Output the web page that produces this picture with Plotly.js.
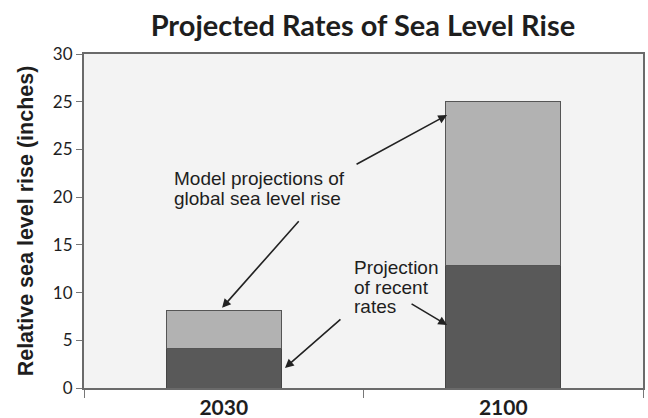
<!DOCTYPE html>
<html>
<head>
<meta charset="utf-8">
<script src="https://cdn.plot.ly/plotly-3.0.1.min.js"></script>
<style>html,body{margin:0;padding:0;background:#fff;}#chart{width:648px;height:418px;}</style>
</head>
<body>
<div id="chart"></div>
<script>
// Data (values on the drawn axis scale)
var years = ["2030", "2100"];
var recentRates = [4.1, 12.8];          // dark lower segment
var modelExtra = [4.0, 17.2];           // light upper segment (model projections)
var tickVals = [0, 5, 10, 15, 20, 25, 30, 35];
var tickText = ["0", "5", "10", "15", "20", "25", "25", "30"];
var modelLabel = ["Model projections of", "global sea level rise"];
var recentLabel = ["Projection", "of recent", "rates"];

var traces = [
  {type: "bar", x: years, y: recentRates, name: "Projection of recent rates",
   marker: {color: "#595959", line: {color: "#444", width: 1}}, width: 0.41},
  {type: "bar", x: years, y: modelExtra, name: "Model projections",
   marker: {color: "#b2b2b2", line: {color: "#555", width: 1}}, width: 0.41}
];

var arrowStyle = {showarrow: true, arrowhead: 2, arrowsize: 1.1, arrowwidth: 1.6, arrowcolor: "#222", text: "", xref: "x", yref: "y"};
function arr(x, y, ax, ay) { return Object.assign({}, arrowStyle, {x: x, y: y, ax: ax, ay: ay}); }
var txtFont = {family: "'Liberation Sans', Arial, sans-serif", size: 19, color: "#1e1e1e"};
function lbl(px, py, t) {
  return {xref: "paper", yref: "paper", x: (px - 84) / 559, y: (388 - py) / 334, xanchor: "left", yanchor: "middle",
          align: "left", borderpad: 0, showarrow: false, text: t, font: txtFont};
}

var annotations = [
  lbl(173, 178.5, modelLabel[0]),
  lbl(173, 198.5, modelLabel[1]),
  lbl(353, 267.5, recentLabel[0]),
  lbl(353, 287, recentLabel[1]),
  lbl(353, 306.5, recentLabel[2]),
  arr(0.799, 28.6, -92, 50),
  arr(-0.006, 8.4, 78, -88),
  arr(0.799, 6.6, -37, -22),
  arr(0.219, 2.1, 57, -50)
];

var layout = {
  width: 648, height: 418,
  margin: {l: 84, r: 5, t: 54, b: 30},
  paper_bgcolor: "#ffffff",
  plot_bgcolor: "#f3f3f3",
  barmode: "stack",
  showlegend: false,
  title: {text: "<b>Projected Rates of Sea Level Rise</b>", x: 0.56, xanchor: "center", y: 0.938, yanchor: "middle",
          font: {family: "Lato, 'DejaVu Sans', sans-serif", size: 29, color: "#1e1e1e"}},
  xaxis: {type: "category", range: [-0.5, 1.5], showline: true, linecolor: "#6a6a6a", linewidth: 2, mirror: true,
          ticks: "outside", tickson: "boundaries", ticklen: 8, tickcolor: "#777", showgrid: false,
          tickfont: {family: "Lato, sans-serif", size: 21, color: "#1e1e1e", weight: "bold"}},
  yaxis: {range: [0, 35], tickvals: tickVals, ticktext: tickText, showline: true, linecolor: "#6a6a6a", linewidth: 2, mirror: true,
          ticks: "outside", ticklen: 6, tickcolor: "#777", showgrid: false, zeroline: false,
          tickfont: {family: "Lato, sans-serif", size: 17, color: "#1e1e1e"},
          title: {text: "<b>Relative sea level rise (inches)</b>", standoff: 13,
                  font: {family: "'Liberation Sans', Arial, sans-serif", size: 21.5, color: "#1e1e1e"}}},
  annotations: annotations
};

Plotly.newPlot("chart", traces, layout, {displayModeBar: false, staticPlot: true});
</script>
</body>
</html>
